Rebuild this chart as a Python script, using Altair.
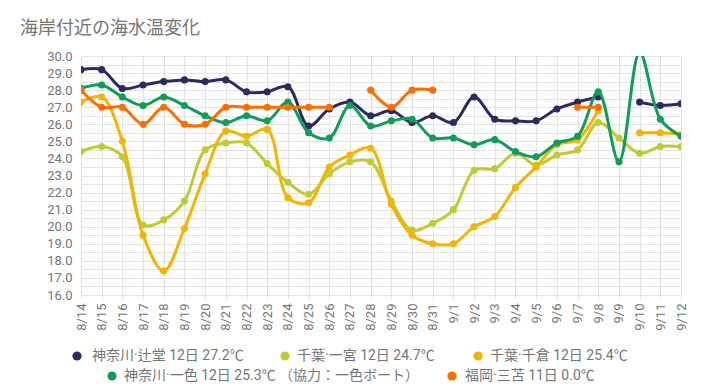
import altair as alt
import pandas as pd

FONT = "Roboto, 'Noto Sans CJK JP', sans-serif"

dates = ["8/14", "8/15", "8/16", "8/17", "8/18", "8/19", "8/20", "8/21", "8/22", "8/23",
         "8/24", "8/25", "8/26", "8/27", "8/28", "8/29", "8/30", "8/31",
         "9/1", "9/2", "9/3", "9/4", "9/5", "9/6", "9/7", "9/8", "9/9", "9/10", "9/11", "9/12"]

tsujido = [29.2, 29.2, 28.1, 28.3, 28.5, 28.6, 28.5, 28.6, 27.9, 27.9,
           28.2, 25.9, 26.9, 27.3, 26.5, 26.8, 26.1, 26.5,
           26.1, 27.6, 26.3, 26.2, 26.2, 26.9, 27.3, 27.6, None, 27.3, 27.1, 27.2]
ichinomiya = [24.4, 24.7, 24.1, 20.1, 20.4, 21.5, 24.5, 24.9, 24.9, 23.7,
              22.6, 21.9, 23.1, 23.8, 23.8, 21.5, 19.8, 20.2,
              21.0, 23.3, 23.4, 24.3, 23.6, 24.2, 24.5, 26.1, 25.2, 24.3, 24.7, 24.7]
chikura = [27.3, 27.6, 25.0, 19.5, 17.4, 19.9, 23.1, 25.6, 25.3, 25.7,
           21.7, 21.4, 23.5, 24.2, 24.6, 21.3, 19.5, 19.0,
           19.0, 20.0, 20.6, 22.3, 23.5, 24.8, 25.1, 26.8, None, 25.5, 25.5, 25.4]
isshiki = [28.1, 28.3, 27.6, 27.1, 27.6, 27.1, 26.5, 26.1, 26.5, 26.2,
           27.3, 25.5, 25.2, 27.1, 25.9, 26.2, 26.3, 25.2,
           25.2, 24.8, 25.1, 24.4, 24.1, 24.9, 25.3, 27.9, 23.8, 30.2, 26.3, 25.3]
fukuoka = [28.0, 27.0, 27.0, 26.0, 27.0, 26.0, 26.0, 27.0, 27.0, 27.0,
           27.0, 27.0, 27.0, None, 28.0, 27.0, 28.0, 28.0,
           None, None, None, None, None, None, 27.0, 27.0, None, None, None, None]

series_names = ["神奈川·辻堂 12日 27.2℃", "千葉·一宮 12日 24.7℃", "千葉·千倉 12日 25.4℃",
                "神奈川·一色 12日 25.3℃ （協力：一色ボート）", "福岡·三苫 11日 0.0℃"]
series_values = [tsujido, ichinomiya, chikura, isshiki, fukuoka]
colors = ["#2b2b60", "#c0ca33", "#f4b400", "#0f9d58", "#ff6d00"]

# legend placement (pixels relative to plot origin): (dot x, text x, y)
legend_pos = [(-4, 11, 300), (204, 216, 300), (397, 409, 300), (31, 43, 320), (371, 384, 320)]

y_ticks = [16 + 0.5 * i for i in range(29)]

x_enc = alt.X("date:N", sort=dates,
              scale=alt.Scale(type="point", padding=0, domain=dates),
              axis=alt.Axis(title=None, labelAngle=270, labelFontSize=13, labelColor="#757575",
                            labelFont=FONT, grid=True, gridColor="#e3e3e3", domain=False,
                            ticks=True, tickSize=4, tickColor="#e3e3e3", labelPadding=4))
y_enc = alt.Y("value:Q",
              scale=alt.Scale(domain=[16, 30], nice=False, zero=False),
              axis=alt.Axis(title=None, values=y_ticks,
                            labelExpr="datum.value % 1 == 0 ? format(datum.value, '.1f') : ''",
                            labelFontSize=13, labelColor="#757575", labelFont=FONT,
                            grid=True, gridColor="#e3e3e3", domain=False, ticks=False,
                            labelPadding=9))

layers = []
for name, vals, col in zip(series_names, series_values, colors):
    df = pd.DataFrame({"date": dates, "value": vals})
    line = alt.Chart(df).mark_line(color=col, strokeWidth=3, interpolate="catmull-rom",
                                    clip=True, invalid="break-paths-filter-domains").encode(
        x=x_enc, y=y_enc)
    pts = alt.Chart(df).mark_point(color=col, filled=True, size=50, opacity=1, clip=True).encode(
        x=x_enc, y=y_enc)
    layers += [line, pts]

for name, col, (dx, tx, ty) in zip(series_names, colors, legend_pos):
    ldf = pd.DataFrame({"t": [name]})
    dot = alt.Chart(ldf).mark_point(color=col, filled=True, size=85, opacity=1).encode(
        x=alt.value(dx), y=alt.value(ty))
    txt = alt.Chart(ldf).mark_text(align="left", baseline="middle", fontSize=14,
                                   color="#757575", font=FONT).encode(
        x=alt.value(tx), y=alt.value(ty), text="t:N")
    layers += [dot, txt]

chart = alt.layer(*layers).properties(
    width=600, height=239,
    autosize="none",
    padding={"left": 73, "top": 48, "right": 25, "bottom": 88},
    title=alt.TitleParams("海岸付近の海水温変化", anchor="start", frame="group", fontSize=18,
                          fontWeight="normal", color="#757575", font=FONT,
                          dx=-61, offset=12),
).configure_view(stroke=None)

chart.save("out.html", embed_options={"renderer": "svg", "actions": False})
